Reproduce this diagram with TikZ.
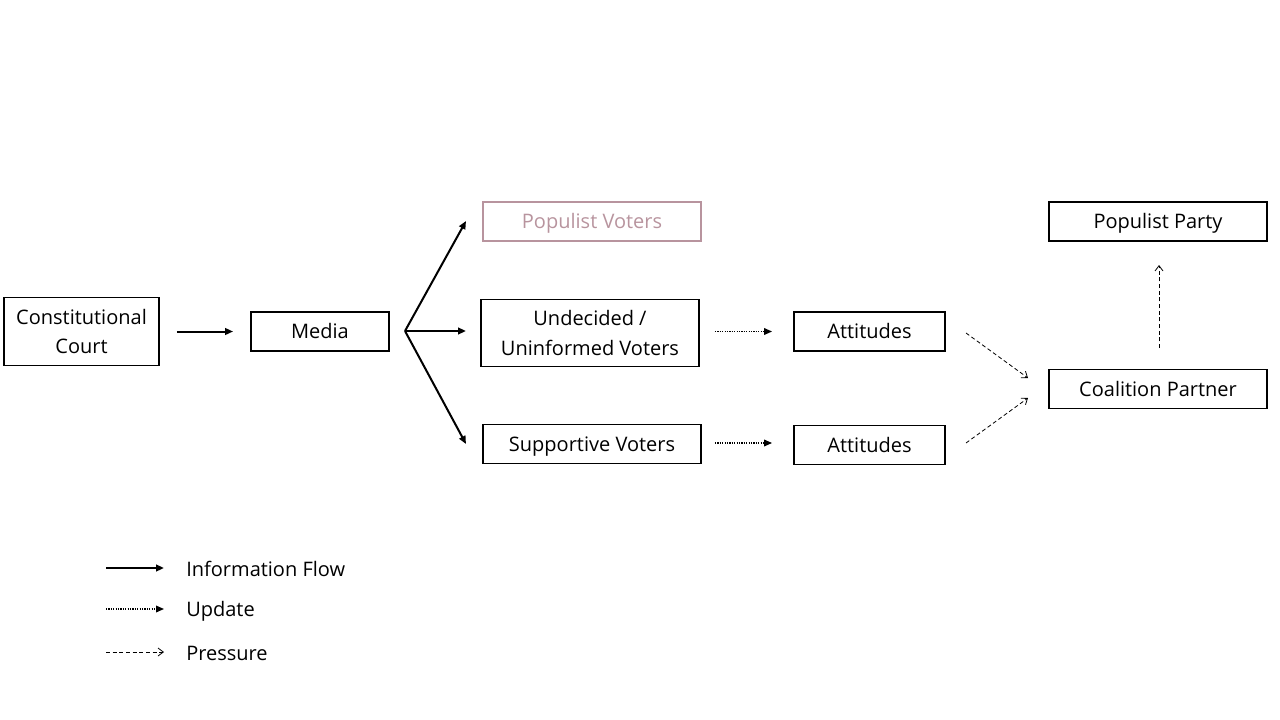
\documentclass[tikz,border=0pt]{standalone}
\usepackage{fontspec}
\setmainfont{Open Sans}
\usetikzlibrary{arrows.meta}
\definecolor{muted}{RGB}{184,148,158}
\tikzset{
  box/.style={draw=black, line width=1.4pt, minimum height=29.25pt, inner sep=0pt, align=center, font=\fontsize{15}{22}\selectfont},
  single/.style={text height=12.7pt, text depth=2pt},
  flow/.style={line width=1.5pt, -{Triangle[length=6pt,width=5pt]}},
  upd/.style={line width=1pt, dash pattern=on 0.9pt off 0.9pt, -{Triangle[length=6pt,width=5pt]}},
  press/.style={line width=0.6pt, dash pattern=on 3pt off 2pt, -{Straight Barb[length=4pt,width=6pt]}},
  lbl/.style={anchor=west, inner sep=0pt, font=\fontsize{15}{19}\selectfont}
}
\begin{document}
\begin{tikzpicture}[x=0.75pt,y=-0.75pt]
\useasboundingbox (0,0) rectangle (1280,720);
% nodes
\node[box, minimum width=116.25pt, minimum height=51pt] (cc) at (81.5,331.5) {Constitutional\\Court};
\node[box, single, minimum width=103.5pt] (media) at (320,331.5) {Media};
\node[box, single, draw=muted, text=muted, minimum width=163.5pt] (pv) at (592,221.5) {Populist Voters};
\node[box, minimum width=163.5pt, minimum height=50.25pt] (uv) at (590,333) {Undecided /\\Uninformed Voters};
\node[box, single, minimum width=163.5pt] (sv) at (592,444) {Supportive Voters};
\node[box, single, minimum width=113.25pt] (att1) at (869.5,331.5) {Attitudes};
\node[box, single, minimum width=113.25pt] (att2) at (869.5,445) {Attitudes};
\node[box, single, minimum width=163.5pt] (pp) at (1158,221.5) {Populist Party};
\node[box, single, minimum width=163.5pt] (cp) at (1158,389) {Coalition Partner};
% coordinates
\coordinate (split) at (405,331);
\coordinate (pvin) at (466,221);
\coordinate (uvin) at (466,331);
\coordinate (svin) at (466,444);
\coordinate (a1out) at (966,333);
\coordinate (a2out) at (966,443);
\coordinate (cpin1) at (1028,378);
\coordinate (cpin2) at (1028,398);
\coordinate (cpout) at (1159,348);
\coordinate (ppin) at (1159,265);
% connectors
\draw[flow, shorten <=12.75pt, shorten >=12.75pt] (cc.east |- media.west) -- (media.west);
\draw[flow] (split) -- (pvin);
\draw[flow] (split) -- (uvin);
\draw[flow] (split) -- (svin);
\draw[upd, shorten <=11.25pt, shorten >=15.75pt] (uv.east |- att1.west) -- (att1.west);
\draw[upd, shorten <=9.75pt, shorten >=15.75pt] (sv.east |- 0,443) -- (att2.west |- 0,443);
\draw[press] (a1out) -- (cpin1);
\draw[press] (a2out) -- (cpin2);
\draw[press] (cpout) -- (ppin);
% legend
\coordinate (l1a) at (106,568); \coordinate (l1b) at (164,568);
\coordinate (l2a) at (106,609); \coordinate (l2b) at (164,609);
\coordinate (l3a) at (106,652); \coordinate (l3b) at (164,652);
\draw[flow] (l1a) -- (l1b);
\draw[upd] (l2a) -- (l2b);
\draw[press] (l3a) -- (l3b);
\node[lbl] (t1) at (186,569) {Information Flow};
\node[lbl] (t2) at (186,611) {Update};
\node[lbl] (t3) at (186,653) {Pressure};
\end{tikzpicture}
\end{document}
